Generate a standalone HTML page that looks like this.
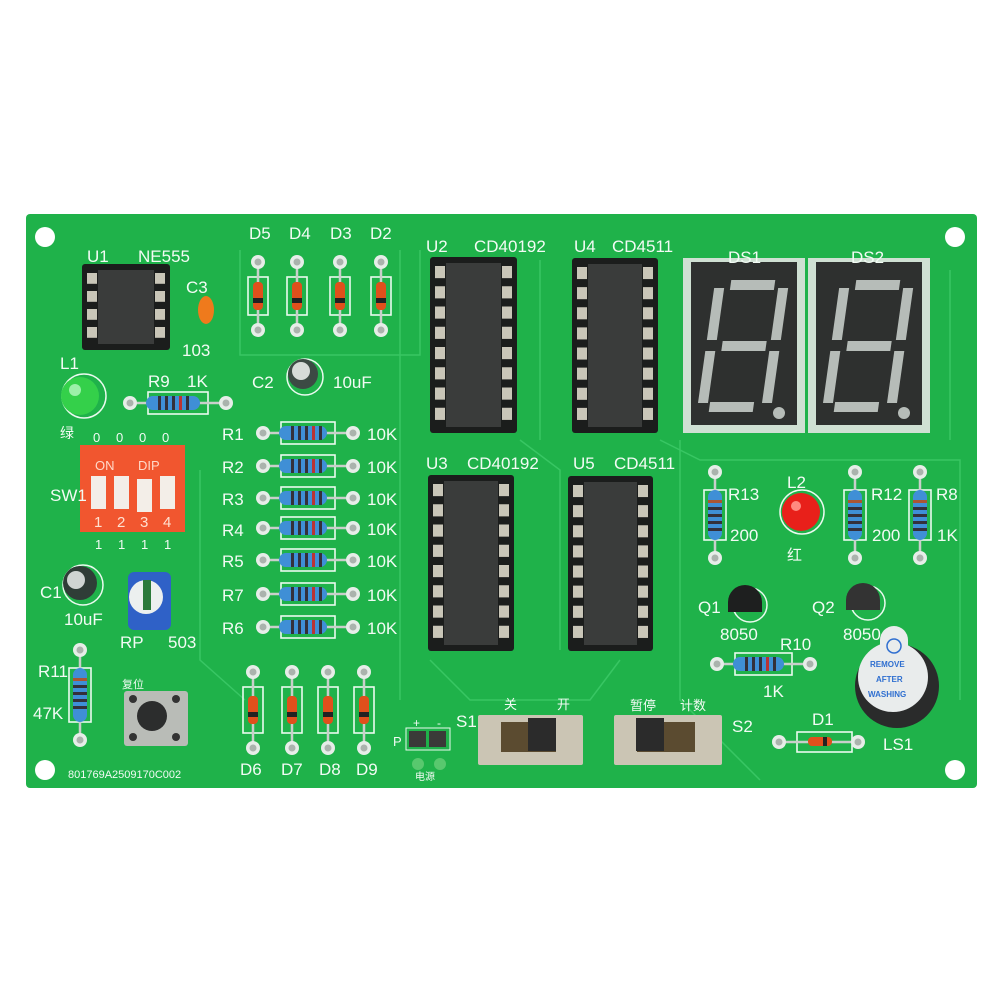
<!DOCTYPE html>
<html><head><meta charset="utf-8"><style>
html,body{margin:0;padding:0;background:#fff;width:1000px;height:1000px;overflow:hidden}
svg{display:block}
text{font-family:"Liberation Sans","Noto Sans CJK SC",sans-serif;fill:#f2fbf4}
</style></head><body>
<svg id="s" width="1000" height="1000" viewBox="0 0 1000 1000" xmlns="http://www.w3.org/2000/svg">
<rect x="0" y="0" width="1000" height="1000" fill="#fff"/>
<rect x="26" y="214" width="951" height="574" rx="4" fill="#1fb24a"/>
<g stroke="#3fcb6a" stroke-width="1.5" fill="none" opacity="0.8">
<path d="M240 250 L240 355 L420 355 L420 250"/>
<path d="M200 470 L200 660 L245 700"/>
<path d="M520 440 L560 470 L560 650"/>
<path d="M660 440 L700 460 L960 460 L960 700"/>
<path d="M430 660 L470 700 L590 700 L620 660"/>
<path d="M540 260 L540 440"/>
<path d="M680 440 L680 700 L760 780"/>
<path d="M400 250 L400 700"/>
<path d="M950 270 L950 440"/>
</g>
<g id="dyn"></g>
<!-- text labels -->
<g font-size="17">
<text x="87" y="262">U1</text><text x="138" y="262">NE555</text>
<text x="186" y="293">C3</text><text x="182" y="356">103</text>
<text x="60" y="369">L1</text>
<text x="148" y="387">R9</text><text x="187" y="387">1K</text>
<text x="60" y="438" font-size="14">绿</text>
<text x="249" y="239">D5</text><text x="289" y="239">D4</text><text x="330" y="239">D3</text><text x="370" y="239">D2</text>
<text x="252" y="388">C2</text><text x="333" y="388">10uF</text>
<text x="50" y="501">SW1</text>
<text x="40" y="598">C1</text><text x="64" y="625">10uF</text>
<text x="120" y="648">RP</text><text x="168" y="648">503</text>
<text x="38" y="677">R11</text><text x="33" y="719">47K</text>
<text x="122" y="688" font-size="11">复位</text>
<text x="240" y="775">D6</text><text x="281" y="775">D7</text><text x="319" y="775">D8</text><text x="356" y="775">D9</text>
<text x="68" y="778" font-size="11">801769A2509170C002</text>
<text x="426" y="252">U2</text><text x="474" y="252">CD40192</text>
<text x="574" y="252">U4</text><text x="612" y="252">CD4511</text>
<text x="426" y="469">U3</text><text x="467" y="469">CD40192</text>
<text x="573" y="469">U5</text><text x="614" y="469">CD4511</text>
<text x="728" y="263">DS1</text><text x="851" y="263">DS2</text>
<text x="728" y="500">R13</text><text x="730" y="541">200</text>
<text x="787" y="488">L2</text><text x="787" y="560" font-size="15">红</text>
<text x="871" y="500">R12</text><text x="872" y="541">200</text>
<text x="936" y="500">R8</text><text x="937" y="541">1K</text>
<text x="698" y="613">Q1</text><text x="720" y="640">8050</text>
<text x="812" y="613">Q2</text><text x="843" y="640">8050</text>
<text x="780" y="650">R10</text><text x="763" y="697">1K</text>
<text x="812" y="725">D1</text><text x="883" y="750">LS1</text>
<text x="456" y="727">S1</text><text x="732" y="732">S2</text>
<text x="504" y="709" font-size="13">关</text><text x="557" y="709" font-size="13">开</text>
<text x="630" y="710" font-size="13">暂停</text><text x="680" y="710" font-size="13">计数</text>
<text x="393" y="746" font-size="13">P</text>
<text x="413" y="727" font-size="12">+</text><text x="437" y="727" font-size="12">-</text>
<text x="415" y="780" font-size="10">电源</text>
</g>
</svg>
<script>
var o='';
function pad(x,y){o+='<circle cx="'+x+'" cy="'+y+'" r="7" fill="#e6ede8"/><circle cx="'+x+'" cy="'+y+'" r="3.5" fill="#aab3ad"/>';}
function silk(x,y,w,h){o+='<rect x="'+x+'" y="'+y+'" width="'+w+'" height="'+h+'" fill="none" stroke="#eafaef" stroke-width="1.6"/>';}
function resH(x1,x2,y){silk(x1+18,y-11,x2-x1-36,22);o+='<line x1="'+x1+'" y1="'+y+'" x2="'+x2+'" y2="'+y+'" stroke="#c9cfcb" stroke-width="2.5"/>';pad(x1,y);pad(x2,y);
var bx=x1+16,bw=x2-x1-42;o+='<rect x="'+bx+'" y="'+(y-7)+'" width="'+bw+'" height="14" rx="7" fill="#3f8fd6"/>';
for(var i=0;i<5;i++){o+='<rect x="'+(bx+12+i*7)+'" y="'+(y-7)+'" width="3" height="14" fill="'+(i==3?'#b33':'#34303a')+'"/>';}}
function resV(x,y1,y2){silk(x-11,y1+18,22,y2-y1-36);o+='<line x1="'+x+'" y1="'+y1+'" x2="'+x+'" y2="'+y2+'" stroke="#c9cfcb" stroke-width="2.5"/>';pad(x,y1);pad(x,y2);
var by=y1+18,bh=y2-y1-36;o+='<rect x="'+(x-7)+'" y="'+by+'" width="14" height="'+bh+'" rx="7" fill="#3f8fd6"/>';
for(var i=0;i<5;i++){o+='<rect x="'+(x-7)+'" y="'+(by+10+i*7)+'" width="14" height="3" fill="'+(i==0?'#a53':'#34303a')+'"/>';}}
function diodeV(x,y1,y2){silk(x-10,y1+15,20,y2-y1-30);o+='<line x1="'+x+'" y1="'+y1+'" x2="'+x+'" y2="'+y2+'" stroke="#c9cfcb" stroke-width="2.5"/>';pad(x,y1);pad(x,y2);
var m=(y1+y2)/2;o+='<rect x="'+(x-5)+'" y="'+(m-14)+'" width="10" height="28" rx="4" fill="#e0501c"/><rect x="'+(x-5)+'" y="'+(m+2)+'" width="10" height="5" fill="#222"/>';}
function chip(x,y,w,h,n){o+='<rect x="'+x+'" y="'+y+'" width="'+w+'" height="'+h+'" rx="3" fill="#1b1d1c"/>';
var st=(h-14)/n;for(var i=0;i<n;i++){var py=y+9+i*st;o+='<rect x="'+(x+5)+'" y="'+py+'" width="10" height="'+(st*0.6)+'" fill="#c9c6b8"/><rect x="'+(x+w-15)+'" y="'+py+'" width="10" height="'+(st*0.6)+'" fill="#c9c6b8"/>';}
o+='<rect x="'+(x+16)+'" y="'+(y+6)+'" width="'+(w-32)+'" height="'+(h-12)+'" fill="#3a3c3b"/>';}
function seg(x,y){o+='<rect x="'+x+'" y="'+y+'" width="122" height="175" fill="#cfe0d3"/><rect x="'+(x+8)+'" y="'+(y+4)+'" width="106" height="163" fill="#2e302f"/>';
var c='#b6bcb8';o+='<g transform="translate('+(x+61)+','+(y+88)+') skewX(-8)" fill="'+c+'">'+
'<rect x="-22" y="-66" width="44" height="10"/><rect x="-22" y="-5" width="44" height="10"/><rect x="-26" y="56" width="44" height="10"/>'+
'<rect x="-38" y="-58" width="10" height="52"/><rect x="26" y="-58" width="10" height="52"/><rect x="-38" y="5" width="10" height="52"/><rect x="26" y="5" width="10" height="52"/></g>';
o+='<circle cx="'+(x+96)+'" cy="'+(y+155)+'" r="6" fill="'+c+'"/>';}
// holes
[[45,237],[955,237],[45,770],[955,770]].forEach(function(p){o+='<circle cx="'+p[0]+'" cy="'+p[1]+'" r="10" fill="#fff"/>';});
// U1
chip(82,264,88,86,4);
o+='<ellipse cx="206" cy="310" rx="8" ry="14" fill="#ef7a1c"/>';
// diodes top
[258,297,340,381].forEach(function(x){diodeV(x,262,330);});
// C2
o+='<circle cx="305" cy="377" r="18" fill="none" stroke="#eafaef" stroke-width="1.5"/><circle cx="303" cy="374" r="15" fill="#3c4a44"/><circle cx="301" cy="371" r="9" fill="#d6dbd8"/>';
// L1
o+='<circle cx="84" cy="396" r="22" fill="none" stroke="#eafaef" stroke-width="1.5"/><circle cx="80" cy="396" r="19" fill="#34d04a"/><circle cx="75" cy="390" r="6" fill="#9cf0a8"/>';
resH(130,226,403);
// SW1
o+='<rect x="80" y="445" width="105" height="87" fill="#f1562f"/>';
o+='<text x="95" y="470" font-size="13" style="fill:#ffd8c8">ON</text><text x="138" y="470" font-size="13" style="fill:#ffd8c8">DIP</text>';
[91,114,137,160].forEach(function(x,i){o+='<rect x="'+x+'" y="'+(i==2?479:476)+'" width="15" height="33" fill="#f3eee8"/><text x="'+(x+3)+'" y="527" font-size="15" style="fill:#ffe0d0">'+(i+1)+'</text><text x="'+(x+2)+'" y="442" font-size="13">0</text><text x="'+(x+4)+'" y="549" font-size="13">1</text>';});
// C1
o+='<circle cx="83" cy="585" r="20" fill="none" stroke="#eafaef" stroke-width="1.5"/><circle cx="80" cy="583" r="17" fill="#2f3d37"/><circle cx="76" cy="580" r="9" fill="#cfd5d2"/>';
// RP
o+='<rect x="128" y="572" width="43" height="58" rx="6" fill="#2f61c7"/><circle cx="146" cy="597" r="17" fill="#ecf0ef"/><rect x="143" y="580" width="8" height="30" fill="#2b7a3a"/>';
resV(80,650,740);
// button
o+='<rect x="124" y="691" width="64" height="55" rx="3" fill="#b9bcb7"/><circle cx="152" cy="716" r="15" fill="#2c2d2d"/>';
[[133,699],[176,699],[133,737],[176,737]].forEach(function(p){o+='<circle cx="'+p[0]+'" cy="'+p[1]+'" r="4" fill="#333"/>';});
// D6-D9
[253,292,328,364].forEach(function(x){diodeV(x,672,748);});
// resistors
[433,466,498,528,560,594,627].forEach(function(y){resH(263,353,y);});
o+='<text x="222" y="440" font-size="17">R1</text><text x="222" y="473" font-size="17">R2</text><text x="222" y="505" font-size="17">R3</text><text x="222" y="536" font-size="17">R4</text><text x="222" y="567" font-size="17">R5</text><text x="222" y="601" font-size="17">R7</text><text x="222" y="634" font-size="17">R6</text>';
[433,466,498,528,560,594,627].forEach(function(y){o+='<text x="367" y="'+(y+7)+'" font-size="17">10K</text>';});
// chips
chip(430,257,87,176,8);chip(572,258,86,175,8);chip(428,475,86,176,8);chip(568,476,85,175,8);
// displays
seg(683,258);seg(808,258);
// right side
resV(715,472,558);resV(855,472,558);resV(920,472,558);
o+='<circle cx="802" cy="512" r="22" fill="none" stroke="#eafaef" stroke-width="1.5"/><circle cx="801" cy="512" r="19" fill="#e8201a"/><circle cx="796" cy="506" r="5" fill="#ff8a80"/>';
o+='<circle cx="750" cy="605" r="17" fill="none" stroke="#eafaef" stroke-width="1.5"/><path d="M728 602 a17 17 0 0 1 34 0 l0 10 l-34 0 z" fill="#1e1f1f"/>';
o+='<circle cx="868" cy="603" r="17" fill="none" stroke="#eafaef" stroke-width="1.5"/><path d="M846 600 a17 17 0 0 1 34 0 l0 10 l-34 0 z" fill="#333"/>';
resH(717,810,664);
// buzzer
o+='<circle cx="897" cy="686" r="42" fill="#2a2b2b"/><circle cx="893" cy="677" r="35" fill="#e9ecec"/><path d="M880 650 l0 -10 a14 14 0 0 1 28 0 l0 10 z" fill="#e9ecec"/><circle cx="894" cy="646" r="7" fill="none" stroke="#2f6fd0" stroke-width="1.5"/>';
o+='<text x="870" y="667" font-size="8" style="fill:#2f6fd0;font-weight:bold">REMOVE</text><text x="876" y="682" font-size="8" style="fill:#2f6fd0;font-weight:bold">AFTER</text><text x="868" y="697" font-size="8" style="fill:#2f6fd0;font-weight:bold">WASHING</text>';
// D1
silk(797,732,55,20);o+='<line x1="779" y1="742" x2="858" y2="742" stroke="#c9cfcb" stroke-width="2.5"/>';pad(779,742);pad(858,742);o+='<rect x="808" y="737" width="24" height="9" rx="4" fill="#e0501c"/><rect x="823" y="737" width="4" height="9" fill="#222"/>';
// switches
function sw(x,w,kx){o+='<rect x="'+x+'" y="715" width="'+w+'" height="50" rx="2" fill="#cbc5b4"/><rect x="'+(x+23)+'" y="722" width="'+(w-50)+'" height="30" fill="#5b4b30"/><rect x="'+kx+'" y="718" width="28" height="33" fill="#2b2b2b"/>';}
sw(478,105,528);sw(614,108,636);
// jumper
o+='<rect x="406" y="728" width="44" height="22" fill="none" stroke="#eafaef"/><rect x="409" y="731" width="17" height="16" fill="#3a3a38"/><rect x="429" y="731" width="17" height="16" fill="#3a3a38"/><circle cx="418" cy="764" r="6" fill="#58c86e"/><circle cx="440" cy="764" r="6" fill="#58c86e"/>';
document.getElementById('dyn').innerHTML=o;
</script>
</body></html>
